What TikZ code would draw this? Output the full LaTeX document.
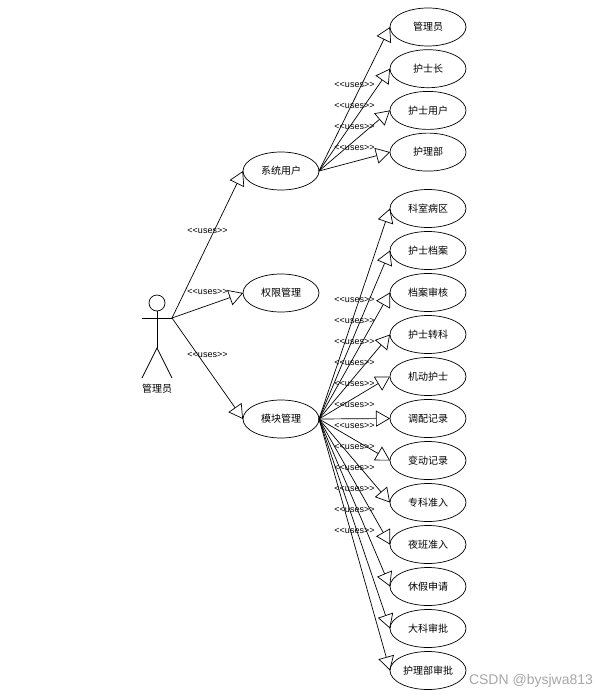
\documentclass[tikz,border=0pt]{standalone}
\usepackage{fontspec}
\newfontfamily\cjkfont{Noto Sans CJK SC}
\newfontfamily\latinfont{Liberation Sans}
\usetikzlibrary{shapes.geometric, arrows.meta, positioning}

\begin{document}
\begin{tikzpicture}[
    x=1pt, y=1pt,
    case/.style={ellipse, draw, line width=0.7pt, inner sep=0pt, outer sep=0pt, minimum width=76pt, minimum height=38pt, align=center, font=\cjkfont\fontsize{10}{12}\selectfont},
    limb/.style={line width=0.7pt},
    arr/.style={-{Triangle[open, length=14pt, width=16pt]}, line width=0.7pt},
    uses/.style={midway, yshift=14pt, inner sep=0pt, font=\latinfont\fontsize{9}{10}\selectfont},
    node distance=3.7pt,
]
    \useasboundingbox (0,0) rectangle (609,-699);

    % Actor
    \node[circle, draw, line width=0.7pt, minimum size=16pt, inner sep=0pt] (head) at (157,-303) {};
    \coordinate (hip) at (157,-348);
    \coordinate (armleft) at (142,-318);
    \coordinate (armright) at (172,-318);
    \coordinate (footleft) at (142,-378);
    \coordinate (footright) at (172,-378);
    \node[inner sep=0pt, font=\cjkfont\fontsize{10}{12}\selectfont] (actorname) at (157,-389) {管理员};
    \draw[limb] (head) -- (hip);
    \draw[limb] (armleft) -- (armright);
    \draw[limb] (footleft) -- (hip) -- (footright);

    % Middle cases
    \node[case] (sysuser) at (281,-171) {系统用户};
    \node[case] (perm) at (281,-293) {权限管理};
    \node[case] (module) at (281,-419) {模块管理};

    % System user cases
    \node[case] (admin) at (428,-27) {管理员};
    \node[case, below=of admin] (headnurse) {护士长};
    \node[case, below=of headnurse] (nurseuser) {护士用户};
    \node[case, below=of nurseuser] (nursedept) {护理部};

    % Module cases
    \node[case] (ward) at (428,-208.5) {科室病区};
    \node[case, below=4pt of ward] (archive) {护士档案};
    \node[case, below=4pt of archive] (review) {档案审核};
    \node[case, below=4pt of review] (transfer) {护士转科};
    \node[case, below=4pt of transfer] (mobile) {机动护士};
    \node[case, below=4pt of mobile] (deploy) {调配记录};
    \node[case, below=4pt of deploy] (change) {变动记录};
    \node[case, below=4pt of change] (special) {专科准入};
    \node[case, below=4pt of special] (night) {夜班准入};
    \node[case, below=4pt of night] (leave) {休假申请};
    \node[case, below=4pt of leave] (bigdept) {大科审批};
    \node[case, below=4pt of bigdept] (deptapprove) {护理部审批};

    % Arrows
    \draw[arr] (armright) -- node[uses] {<{}<uses>{}>} (sysuser.west);
    \draw[arr] (armright) -- node[uses] {<{}<uses>{}>} (perm.west);
    \draw[arr] (armright) -- node[uses] {<{}<uses>{}>} (module.west);

    \draw[arr] (sysuser.east) -- node[uses] {<{}<uses>{}>} (admin.west);
    \draw[arr] (sysuser.east) -- node[uses] {<{}<uses>{}>} (headnurse.west);
    \draw[arr] (sysuser.east) -- node[uses] {<{}<uses>{}>} (nurseuser.west);
    \draw[arr] (sysuser.east) -- node[uses] {<{}<uses>{}>} (nursedept.west);

    \draw[arr] (module.east) -- node[uses] {<{}<uses>{}>} (ward.west);
    \draw[arr] (module.east) -- node[uses] {<{}<uses>{}>} (archive.west);
    \draw[arr] (module.east) -- node[uses] {<{}<uses>{}>} (review.west);
    \draw[arr] (module.east) -- node[uses] {<{}<uses>{}>} (transfer.west);
    \draw[arr] (module.east) -- node[uses] {<{}<uses>{}>} (mobile.west);
    \draw[arr] (module.east) -- node[uses] {<{}<uses>{}>} (deploy.west);
    \draw[arr] (module.east) -- node[uses] {<{}<uses>{}>} (change.west);
    \draw[arr] (module.east) -- node[uses] {<{}<uses>{}>} (special.west);
    \draw[arr] (module.east) -- node[uses] {<{}<uses>{}>} (night.west);
    \draw[arr] (module.east) -- node[uses] {<{}<uses>{}>} (leave.west);
    \draw[arr] (module.east) -- node[uses] {<{}<uses>{}>} (bigdept.west);
    \draw[arr] (module.east) -- node[uses] {<{}<uses>{}>} (deptapprove.west);

    % Watermark
    \node[inner sep=0pt, text=gray!70, font=\latinfont\fontsize{14}{16}\selectfont] (mark) at (531,-681) {CSDN @bysjwa813};
\end{tikzpicture}
\end{document}
